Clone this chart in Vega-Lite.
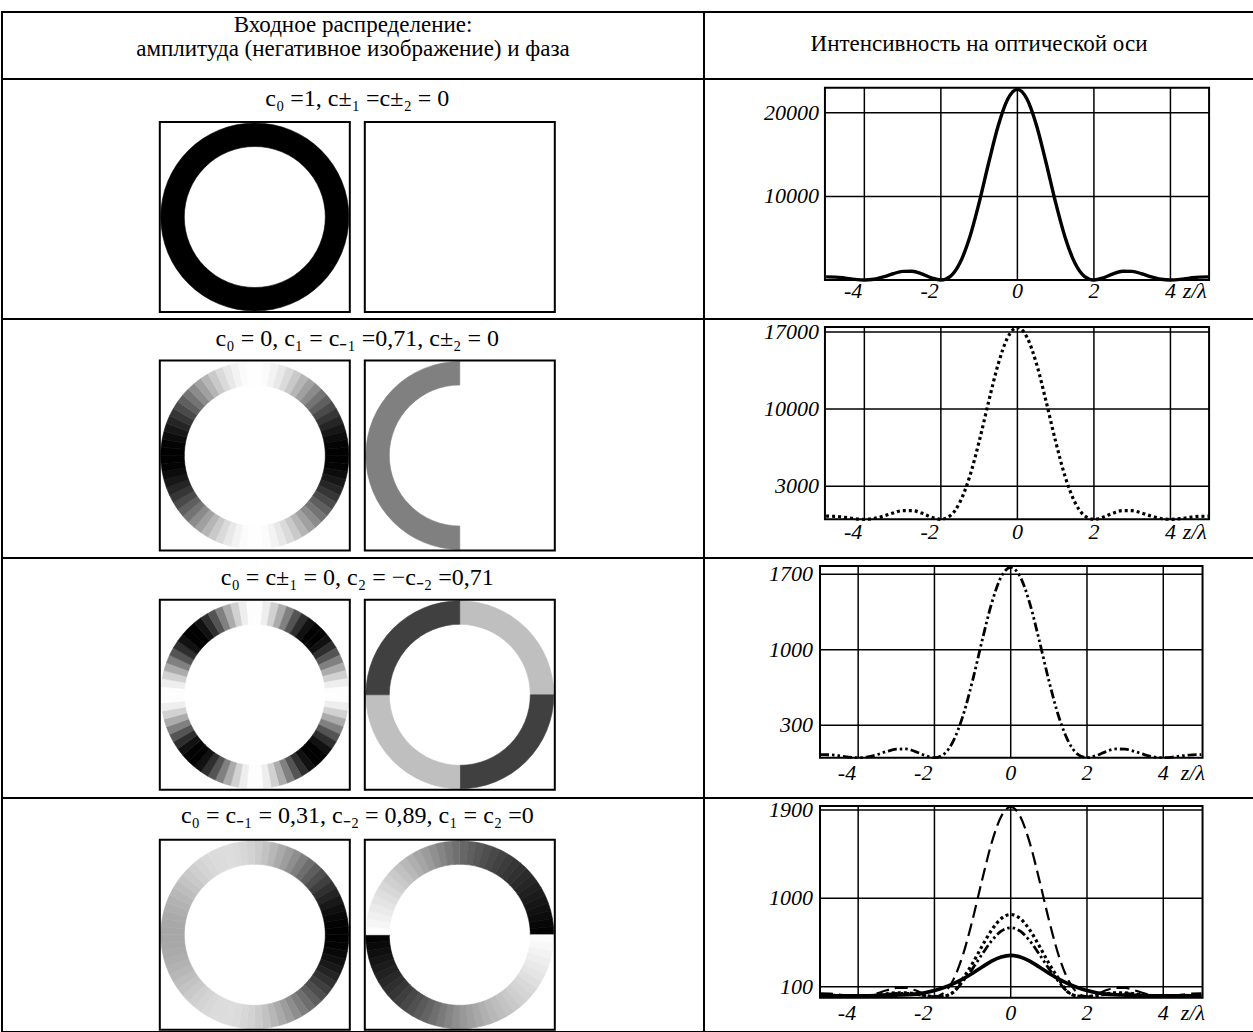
{
"$schema": "https://vega.github.io/schema/vega-lite/v6.json",
"padding": {"left": 1, "top": 11, "right": 0, "bottom": 0},
"background": "white",
"config": {"view": {"stroke": "#000", "strokeWidth": 2}, "axis": {"disable": true}, "legend": {"disable": true}, "font": "Liberation Serif"},
"datasets": {
"one": [{"k": 1}],
"boxes": [{"c": 0}, {"c": 1}],
"headers": [{"h": 1, "t": "Входное распределение:\nамплитуда (негативное изображение) и фаза"}, {"h": 2, "t": "Интенсивность на оптической оси"}],
"titles": [
{"r": 1, "t": "c₀ =1, c±₁ =c±₂ = 0"},
{"r": 2, "t": "c₀ = 0, c₁ = c₋₁ =0,71,  c±₂ = 0"},
{"r": 3, "t": "c₀ = c±₁ = 0, c₂ = −c₋₂ =0,71"},
{"r": 4, "t": "c₀ = c₋₁ = 0,31, c₋₂ = 0,89, c₁ = c₂ =0"}
],
"vgrid": [{"z": -4, "t": "-4"}, {"z": -2, "t": "-2"}, {"z": 0, "t": "0"}, {"z": 2, "t": "2"}, {"z": 4, "t": "4"}],
"hgrid": [{"p": 1, "v": 10000}, {"p": 1, "v": 20000}, {"p": 2, "v": 3000}, {"p": 2, "v": 10000}, {"p": 2, "v": 17000}, {"p": 3, "v": 300}, {"p": 3, "v": 1000}, {"p": 3, "v": 1700}, {"p": 4, "v": 100}, {"p": 4, "v": 1000}, {"p": 4, "v": 1900}],
"rings": [
{"r":1,"c":0,"a":0,"b":360,"v":1},{"r":1,"c":1,"a":0,"b":360,"v":0},
{"r":2,"c":1,"a":0,"b":180,"v":0},{"r":2,"c":1,"a":180,"b":360,"v":0.5},
{"r":3,"c":1,"a":0,"b":90,"v":0.25},{"r":3,"c":1,"a":90,"b":180,"v":0.75},{"r":3,"c":1,"a":180,"b":270,"v":0.25},{"r":3,"c":1,"a":270,"b":360,"v":0.75},
{"r":2,"c":0,"a":0,"b":5,"v":0.002},{"r":2,"c":0,"a":5,"b":10,"v":0.017},{"r":2,"c":0,"a":10,"b":15,"v":0.047},{"r":2,"c":0,"a":15,"b":20,"v":0.09},{"r":2,"c":0,"a":20,"b":25,"v":0.146},{"r":2,"c":0,"a":25,"b":30,"v":0.213},{"r":2,"c":0,"a":30,"b":35,"v":0.289},{"r":2,"c":0,"a":35,"b":40,"v":0.371},{"r":2,"c":0,"a":40,"b":45,"v":0.456},{"r":2,"c":0,"a":45,"b":50,"v":0.544},{"r":2,"c":0,"a":50,"b":55,"v":0.629},{"r":2,"c":0,"a":55,"b":60,"v":0.711},{"r":2,"c":0,"a":60,"b":65,"v":0.787},{"r":2,"c":0,"a":65,"b":70,"v":0.854},{"r":2,"c":0,"a":70,"b":75,"v":0.91},{"r":2,"c":0,"a":75,"b":80,"v":0.953},{"r":2,"c":0,"a":80,"b":85,"v":0.983},{"r":2,"c":0,"a":85,"b":90,"v":0.998},
{"r":2,"c":0,"a":90,"b":95,"v":0.998},{"r":2,"c":0,"a":95,"b":100,"v":0.983},{"r":2,"c":0,"a":100,"b":105,"v":0.953},{"r":2,"c":0,"a":105,"b":110,"v":0.91},{"r":2,"c":0,"a":110,"b":115,"v":0.854},{"r":2,"c":0,"a":115,"b":120,"v":0.787},{"r":2,"c":0,"a":120,"b":125,"v":0.711},{"r":2,"c":0,"a":125,"b":130,"v":0.629},{"r":2,"c":0,"a":130,"b":135,"v":0.544},{"r":2,"c":0,"a":135,"b":140,"v":0.456},{"r":2,"c":0,"a":140,"b":145,"v":0.371},{"r":2,"c":0,"a":145,"b":150,"v":0.289},{"r":2,"c":0,"a":150,"b":155,"v":0.213},{"r":2,"c":0,"a":155,"b":160,"v":0.146},{"r":2,"c":0,"a":160,"b":165,"v":0.09},{"r":2,"c":0,"a":165,"b":170,"v":0.047},{"r":2,"c":0,"a":170,"b":175,"v":0.017},{"r":2,"c":0,"a":175,"b":180,"v":0.002},
{"r":2,"c":0,"a":180,"b":185,"v":0.002},{"r":2,"c":0,"a":185,"b":190,"v":0.017},{"r":2,"c":0,"a":190,"b":195,"v":0.047},{"r":2,"c":0,"a":195,"b":200,"v":0.09},{"r":2,"c":0,"a":200,"b":205,"v":0.146},{"r":2,"c":0,"a":205,"b":210,"v":0.213},{"r":2,"c":0,"a":210,"b":215,"v":0.289},{"r":2,"c":0,"a":215,"b":220,"v":0.371},{"r":2,"c":0,"a":220,"b":225,"v":0.456},{"r":2,"c":0,"a":225,"b":230,"v":0.544},{"r":2,"c":0,"a":230,"b":235,"v":0.629},{"r":2,"c":0,"a":235,"b":240,"v":0.711},{"r":2,"c":0,"a":240,"b":245,"v":0.787},{"r":2,"c":0,"a":245,"b":250,"v":0.854},{"r":2,"c":0,"a":250,"b":255,"v":0.91},{"r":2,"c":0,"a":255,"b":260,"v":0.953},{"r":2,"c":0,"a":260,"b":265,"v":0.983},{"r":2,"c":0,"a":265,"b":270,"v":0.998},
{"r":2,"c":0,"a":270,"b":275,"v":0.998},{"r":2,"c":0,"a":275,"b":280,"v":0.983},{"r":2,"c":0,"a":280,"b":285,"v":0.953},{"r":2,"c":0,"a":285,"b":290,"v":0.91},{"r":2,"c":0,"a":290,"b":295,"v":0.854},{"r":2,"c":0,"a":295,"b":300,"v":0.787},{"r":2,"c":0,"a":300,"b":305,"v":0.711},{"r":2,"c":0,"a":305,"b":310,"v":0.629},{"r":2,"c":0,"a":310,"b":315,"v":0.544},{"r":2,"c":0,"a":315,"b":320,"v":0.456},{"r":2,"c":0,"a":320,"b":325,"v":0.371},{"r":2,"c":0,"a":325,"b":330,"v":0.289},{"r":2,"c":0,"a":330,"b":335,"v":0.213},{"r":2,"c":0,"a":335,"b":340,"v":0.146},{"r":2,"c":0,"a":340,"b":345,"v":0.09},{"r":2,"c":0,"a":345,"b":350,"v":0.047},{"r":2,"c":0,"a":350,"b":355,"v":0.017},{"r":2,"c":0,"a":355,"b":360,"v":0.002},
{"r":3,"c":0,"a":0,"b":5,"v":0.008},{"r":3,"c":0,"a":5,"b":10,"v":0.067},{"r":3,"c":0,"a":10,"b":15,"v":0.179},{"r":3,"c":0,"a":15,"b":20,"v":0.329},{"r":3,"c":0,"a":20,"b":25,"v":0.5},{"r":3,"c":0,"a":25,"b":30,"v":0.671},{"r":3,"c":0,"a":30,"b":35,"v":0.821},{"r":3,"c":0,"a":35,"b":40,"v":0.933},{"r":3,"c":0,"a":40,"b":45,"v":0.992},{"r":3,"c":0,"a":45,"b":50,"v":0.992},{"r":3,"c":0,"a":50,"b":55,"v":0.933},{"r":3,"c":0,"a":55,"b":60,"v":0.821},{"r":3,"c":0,"a":60,"b":65,"v":0.671},{"r":3,"c":0,"a":65,"b":70,"v":0.5},{"r":3,"c":0,"a":70,"b":75,"v":0.329},{"r":3,"c":0,"a":75,"b":80,"v":0.179},{"r":3,"c":0,"a":80,"b":85,"v":0.067},{"r":3,"c":0,"a":85,"b":90,"v":0.008},
{"r":3,"c":0,"a":90,"b":95,"v":0.008},{"r":3,"c":0,"a":95,"b":100,"v":0.067},{"r":3,"c":0,"a":100,"b":105,"v":0.179},{"r":3,"c":0,"a":105,"b":110,"v":0.329},{"r":3,"c":0,"a":110,"b":115,"v":0.5},{"r":3,"c":0,"a":115,"b":120,"v":0.671},{"r":3,"c":0,"a":120,"b":125,"v":0.821},{"r":3,"c":0,"a":125,"b":130,"v":0.933},{"r":3,"c":0,"a":130,"b":135,"v":0.992},{"r":3,"c":0,"a":135,"b":140,"v":0.992},{"r":3,"c":0,"a":140,"b":145,"v":0.933},{"r":3,"c":0,"a":145,"b":150,"v":0.821},{"r":3,"c":0,"a":150,"b":155,"v":0.671},{"r":3,"c":0,"a":155,"b":160,"v":0.5},{"r":3,"c":0,"a":160,"b":165,"v":0.329},{"r":3,"c":0,"a":165,"b":170,"v":0.179},{"r":3,"c":0,"a":170,"b":175,"v":0.067},{"r":3,"c":0,"a":175,"b":180,"v":0.008},
{"r":3,"c":0,"a":180,"b":185,"v":0.008},{"r":3,"c":0,"a":185,"b":190,"v":0.067},{"r":3,"c":0,"a":190,"b":195,"v":0.179},{"r":3,"c":0,"a":195,"b":200,"v":0.329},{"r":3,"c":0,"a":200,"b":205,"v":0.5},{"r":3,"c":0,"a":205,"b":210,"v":0.671},{"r":3,"c":0,"a":210,"b":215,"v":0.821},{"r":3,"c":0,"a":215,"b":220,"v":0.933},{"r":3,"c":0,"a":220,"b":225,"v":0.992},{"r":3,"c":0,"a":225,"b":230,"v":0.992},{"r":3,"c":0,"a":230,"b":235,"v":0.933},{"r":3,"c":0,"a":235,"b":240,"v":0.821},{"r":3,"c":0,"a":240,"b":245,"v":0.671},{"r":3,"c":0,"a":245,"b":250,"v":0.5},{"r":3,"c":0,"a":250,"b":255,"v":0.329},{"r":3,"c":0,"a":255,"b":260,"v":0.179},{"r":3,"c":0,"a":260,"b":265,"v":0.067},{"r":3,"c":0,"a":265,"b":270,"v":0.008},
{"r":3,"c":0,"a":270,"b":275,"v":0.008},{"r":3,"c":0,"a":275,"b":280,"v":0.067},{"r":3,"c":0,"a":280,"b":285,"v":0.179},{"r":3,"c":0,"a":285,"b":290,"v":0.329},{"r":3,"c":0,"a":290,"b":295,"v":0.5},{"r":3,"c":0,"a":295,"b":300,"v":0.671},{"r":3,"c":0,"a":300,"b":305,"v":0.821},{"r":3,"c":0,"a":305,"b":310,"v":0.933},{"r":3,"c":0,"a":310,"b":315,"v":0.992},{"r":3,"c":0,"a":315,"b":320,"v":0.992},{"r":3,"c":0,"a":320,"b":325,"v":0.933},{"r":3,"c":0,"a":325,"b":330,"v":0.821},{"r":3,"c":0,"a":330,"b":335,"v":0.671},{"r":3,"c":0,"a":335,"b":340,"v":0.5},{"r":3,"c":0,"a":340,"b":345,"v":0.329},{"r":3,"c":0,"a":345,"b":350,"v":0.179},{"r":3,"c":0,"a":350,"b":355,"v":0.067},{"r":3,"c":0,"a":355,"b":360,"v":0.008},
{"r":4,"c":0,"a":0,"b":5,"v":0.205},{"r":4,"c":0,"a":5,"b":10,"v":0.241},{"r":4,"c":0,"a":10,"b":15,"v":0.283},{"r":4,"c":0,"a":15,"b":20,"v":0.332},{"r":4,"c":0,"a":20,"b":25,"v":0.385},{"r":4,"c":0,"a":25,"b":30,"v":0.444},{"r":4,"c":0,"a":30,"b":35,"v":0.505},{"r":4,"c":0,"a":35,"b":40,"v":0.568},{"r":4,"c":0,"a":40,"b":45,"v":0.631},{"r":4,"c":0,"a":45,"b":50,"v":0.693},{"r":4,"c":0,"a":50,"b":55,"v":0.753},{"r":4,"c":0,"a":55,"b":60,"v":0.809},{"r":4,"c":0,"a":60,"b":65,"v":0.86},{"r":4,"c":0,"a":65,"b":70,"v":0.904},{"r":4,"c":0,"a":70,"b":75,"v":0.941},{"r":4,"c":0,"a":75,"b":80,"v":0.97},{"r":4,"c":0,"a":80,"b":85,"v":0.989},{"r":4,"c":0,"a":85,"b":90,"v":0.999},
{"r":4,"c":0,"a":90,"b":95,"v":0.999},{"r":4,"c":0,"a":95,"b":100,"v":0.989},{"r":4,"c":0,"a":100,"b":105,"v":0.97},{"r":4,"c":0,"a":105,"b":110,"v":0.941},{"r":4,"c":0,"a":110,"b":115,"v":0.904},{"r":4,"c":0,"a":115,"b":120,"v":0.86},{"r":4,"c":0,"a":120,"b":125,"v":0.809},{"r":4,"c":0,"a":125,"b":130,"v":0.753},{"r":4,"c":0,"a":130,"b":135,"v":0.693},{"r":4,"c":0,"a":135,"b":140,"v":0.631},{"r":4,"c":0,"a":140,"b":145,"v":0.568},{"r":4,"c":0,"a":145,"b":150,"v":0.505},{"r":4,"c":0,"a":150,"b":155,"v":0.444},{"r":4,"c":0,"a":155,"b":160,"v":0.385},{"r":4,"c":0,"a":160,"b":165,"v":0.332},{"r":4,"c":0,"a":165,"b":170,"v":0.283},{"r":4,"c":0,"a":170,"b":175,"v":0.241},{"r":4,"c":0,"a":175,"b":180,"v":0.205},
{"r":4,"c":0,"a":180,"b":185,"v":0.176},{"r":4,"c":0,"a":185,"b":190,"v":0.155},{"r":4,"c":0,"a":190,"b":195,"v":0.142},{"r":4,"c":0,"a":195,"b":200,"v":0.135},{"r":4,"c":0,"a":200,"b":205,"v":0.136},{"r":4,"c":0,"a":205,"b":210,"v":0.142},{"r":4,"c":0,"a":210,"b":215,"v":0.154},{"r":4,"c":0,"a":215,"b":220,"v":0.17},{"r":4,"c":0,"a":220,"b":225,"v":0.19},{"r":4,"c":0,"a":225,"b":230,"v":0.212},{"r":4,"c":0,"a":230,"b":235,"v":0.236},{"r":4,"c":0,"a":235,"b":240,"v":0.259},{"r":4,"c":0,"a":240,"b":245,"v":0.281},{"r":4,"c":0,"a":245,"b":250,"v":0.301},{"r":4,"c":0,"a":250,"b":255,"v":0.319},{"r":4,"c":0,"a":255,"b":260,"v":0.333},{"r":4,"c":0,"a":260,"b":265,"v":0.342},{"r":4,"c":0,"a":265,"b":270,"v":0.347},
{"r":4,"c":0,"a":270,"b":275,"v":0.347},{"r":4,"c":0,"a":275,"b":280,"v":0.342},{"r":4,"c":0,"a":280,"b":285,"v":0.333},{"r":4,"c":0,"a":285,"b":290,"v":0.319},{"r":4,"c":0,"a":290,"b":295,"v":0.301},{"r":4,"c":0,"a":295,"b":300,"v":0.281},{"r":4,"c":0,"a":300,"b":305,"v":0.259},{"r":4,"c":0,"a":305,"b":310,"v":0.236},{"r":4,"c":0,"a":310,"b":315,"v":0.212},{"r":4,"c":0,"a":315,"b":320,"v":0.19},{"r":4,"c":0,"a":320,"b":325,"v":0.17},{"r":4,"c":0,"a":325,"b":330,"v":0.154},{"r":4,"c":0,"a":330,"b":335,"v":0.142},{"r":4,"c":0,"a":335,"b":340,"v":0.136},{"r":4,"c":0,"a":340,"b":345,"v":0.135},{"r":4,"c":0,"a":345,"b":350,"v":0.142},{"r":4,"c":0,"a":350,"b":355,"v":0.155},{"r":4,"c":0,"a":355,"b":360,"v":0.176},
{"r":4,"c":1,"a":0,"b":5,"v":0.596},{"r":4,"c":1,"a":5,"b":10,"v":0.629},{"r":4,"c":1,"a":10,"b":15,"v":0.66},{"r":4,"c":1,"a":15,"b":20,"v":0.689},{"r":4,"c":1,"a":20,"b":25,"v":0.716},{"r":4,"c":1,"a":25,"b":30,"v":0.741},{"r":4,"c":1,"a":30,"b":35,"v":0.765},{"r":4,"c":1,"a":35,"b":40,"v":0.788},{"r":4,"c":1,"a":40,"b":45,"v":0.81},{"r":4,"c":1,"a":45,"b":50,"v":0.832},{"r":4,"c":1,"a":50,"b":55,"v":0.852},{"r":4,"c":1,"a":55,"b":60,"v":0.873},{"r":4,"c":1,"a":60,"b":65,"v":0.893},{"r":4,"c":1,"a":65,"b":70,"v":0.913},{"r":4,"c":1,"a":70,"b":75,"v":0.932},{"r":4,"c":1,"a":75,"b":80,"v":0.952},{"r":4,"c":1,"a":80,"b":85,"v":0.971},{"r":4,"c":1,"a":85,"b":90,"v":0.99},
{"r":4,"c":1,"a":90,"b":95,"v":0.01},{"r":4,"c":1,"a":95,"b":100,"v":0.029},{"r":4,"c":1,"a":100,"b":105,"v":0.048},{"r":4,"c":1,"a":105,"b":110,"v":0.068},{"r":4,"c":1,"a":110,"b":115,"v":0.087},{"r":4,"c":1,"a":115,"b":120,"v":0.107},{"r":4,"c":1,"a":120,"b":125,"v":0.127},{"r":4,"c":1,"a":125,"b":130,"v":0.148},{"r":4,"c":1,"a":130,"b":135,"v":0.169},{"r":4,"c":1,"a":135,"b":140,"v":0.19},{"r":4,"c":1,"a":140,"b":145,"v":0.212},{"r":4,"c":1,"a":145,"b":150,"v":0.235},{"r":4,"c":1,"a":150,"b":155,"v":0.259},{"r":4,"c":1,"a":155,"b":160,"v":0.284},{"r":4,"c":1,"a":160,"b":165,"v":0.311},{"r":4,"c":1,"a":165,"b":170,"v":0.34},{"r":4,"c":1,"a":170,"b":175,"v":0.371},{"r":4,"c":1,"a":175,"b":180,"v":0.404},
{"r":4,"c":1,"a":180,"b":185,"v":0.44},{"r":4,"c":1,"a":185,"b":190,"v":0.479},{"r":4,"c":1,"a":190,"b":195,"v":0.521},{"r":4,"c":1,"a":195,"b":200,"v":0.563},{"r":4,"c":1,"a":200,"b":205,"v":0.606},{"r":4,"c":1,"a":205,"b":210,"v":0.647},{"r":4,"c":1,"a":210,"b":215,"v":0.686},{"r":4,"c":1,"a":215,"b":220,"v":0.722},{"r":4,"c":1,"a":220,"b":225,"v":0.756},{"r":4,"c":1,"a":225,"b":230,"v":0.787},{"r":4,"c":1,"a":230,"b":235,"v":0.816},{"r":4,"c":1,"a":235,"b":240,"v":0.843},{"r":4,"c":1,"a":240,"b":245,"v":0.869},{"r":4,"c":1,"a":245,"b":250,"v":0.894},{"r":4,"c":1,"a":250,"b":255,"v":0.919},{"r":4,"c":1,"a":255,"b":260,"v":0.942},{"r":4,"c":1,"a":260,"b":265,"v":0.966},{"r":4,"c":1,"a":265,"b":270,"v":0.989},
{"r":4,"c":1,"a":270,"b":275,"v":0.012},{"r":4,"c":1,"a":275,"b":280,"v":0.035},{"r":4,"c":1,"a":280,"b":285,"v":0.058},{"r":4,"c":1,"a":285,"b":290,"v":0.081},{"r":4,"c":1,"a":290,"b":295,"v":0.106},{"r":4,"c":1,"a":295,"b":300,"v":0.131},{"r":4,"c":1,"a":300,"b":305,"v":0.157},{"r":4,"c":1,"a":305,"b":310,"v":0.184},{"r":4,"c":1,"a":310,"b":315,"v":0.213},{"r":4,"c":1,"a":315,"b":320,"v":0.244},{"r":4,"c":1,"a":320,"b":325,"v":0.278},{"r":4,"c":1,"a":325,"b":330,"v":0.314},{"r":4,"c":1,"a":330,"b":335,"v":0.353},{"r":4,"c":1,"a":335,"b":340,"v":0.394},{"r":4,"c":1,"a":340,"b":345,"v":0.437},{"r":4,"c":1,"a":345,"b":350,"v":0.479},{"r":4,"c":1,"a":350,"b":355,"v":0.521},{"r":4,"c":1,"a":355,"b":360,"v":0.56}
],
"curves": [
{"s":"r1","z":-5,"v":369},{"s":"r1","z":-4.75,"v":349},{"s":"r1","z":-4.5,"v":228},{"s":"r1","z":-4.25,"v":75},{"s":"r1","z":-4,"v":0},{"s":"r1","z":-3.75,"v":96},{"s":"r1","z":-3.5,"v":376},{"s":"r1","z":-3.25,"v":748},{"s":"r1","z":-3,"v":1026},{"s":"r1","z":-2.75,"v":1042},{"s":"r1","z":-2.5,"v":739},{"s":"r1","z":-2.25,"v":267},{"s":"r1","z":-2,"v":0},{"s":"r1","z":-1.75,"v":442},{"s":"r1","z":-1.5,"v":2054},{"s":"r1","z":-1.25,"v":5048},{"s":"r1","z":-1,"v":9241},{"s":"r1","z":-0.75,"v":14022},{"s":"r1","z":-0.5,"v":18482},{"s":"r1","z":-0.25,"v":21653},{"s":"r1","z":0,"v":22800},{"s":"r1","z":0.25,"v":21653},{"s":"r1","z":0.5,"v":18482},{"s":"r1","z":0.75,"v":14022},{"s":"r1","z":1,"v":9241},{"s":"r1","z":1.25,"v":5048},{"s":"r1","z":1.5,"v":2054},{"s":"r1","z":1.75,"v":442},{"s":"r1","z":2,"v":0},{"s":"r1","z":2.25,"v":267},{"s":"r1","z":2.5,"v":739},{"s":"r1","z":2.75,"v":1042},{"s":"r1","z":3,"v":1026},{"s":"r1","z":3.25,"v":748},{"s":"r1","z":3.5,"v":376},{"s":"r1","z":3.75,"v":96},{"s":"r1","z":4,"v":0},{"s":"r1","z":4.25,"v":75},{"s":"r1","z":4.5,"v":228},{"s":"r1","z":4.75,"v":349},{"s":"r1","z":5,"v":369},
{"s":"r2","z":-5,"v":282},{"s":"r2","z":-4.75,"v":266},{"s":"r2","z":-4.5,"v":174},{"s":"r2","z":-4.25,"v":57},{"s":"r2","z":-4,"v":0},{"s":"r2","z":-3.75,"v":73},{"s":"r2","z":-3.5,"v":287},{"s":"r2","z":-3.25,"v":571},{"s":"r2","z":-3,"v":783},{"s":"r2","z":-2.75,"v":795},{"s":"r2","z":-2.5,"v":564},{"s":"r2","z":-2.25,"v":204},{"s":"r2","z":-2,"v":0},{"s":"r2","z":-1.75,"v":338},{"s":"r2","z":-1.5,"v":1568},{"s":"r2","z":-1.25,"v":3852},{"s":"r2","z":-1,"v":7052},{"s":"r2","z":-0.75,"v":10701},{"s":"r2","z":-0.5,"v":14104},{"s":"r2","z":-0.25,"v":16525},{"s":"r2","z":0,"v":17400},{"s":"r2","z":0.25,"v":16525},{"s":"r2","z":0.5,"v":14104},{"s":"r2","z":0.75,"v":10701},{"s":"r2","z":1,"v":7052},{"s":"r2","z":1.25,"v":3852},{"s":"r2","z":1.5,"v":1568},{"s":"r2","z":1.75,"v":338},{"s":"r2","z":2,"v":0},{"s":"r2","z":2.25,"v":204},{"s":"r2","z":2.5,"v":564},{"s":"r2","z":2.75,"v":795},{"s":"r2","z":3,"v":783},{"s":"r2","z":3.25,"v":571},{"s":"r2","z":3.5,"v":287},{"s":"r2","z":3.75,"v":73},{"s":"r2","z":4,"v":0},{"s":"r2","z":4.25,"v":57},{"s":"r2","z":4.5,"v":174},{"s":"r2","z":4.75,"v":266},{"s":"r2","z":5,"v":282},
{"s":"r3","z":-5,"v":29},{"s":"r3","z":-4.75,"v":27},{"s":"r3","z":-4.5,"v":18},{"s":"r3","z":-4.25,"v":6},{"s":"r3","z":-4,"v":0},{"s":"r3","z":-3.75,"v":7},{"s":"r3","z":-3.5,"v":29},{"s":"r3","z":-3.25,"v":58},{"s":"r3","z":-3,"v":79},{"s":"r3","z":-2.75,"v":81},{"s":"r3","z":-2.5,"v":57},{"s":"r3","z":-2.25,"v":21},{"s":"r3","z":-2,"v":0},{"s":"r3","z":-1.75,"v":34},{"s":"r3","z":-1.5,"v":159},{"s":"r3","z":-1.25,"v":391},{"s":"r3","z":-1,"v":715},{"s":"r3","z":-0.75,"v":1085},{"s":"r3","z":-0.5,"v":1431},{"s":"r3","z":-0.25,"v":1676},{"s":"r3","z":0,"v":1765},{"s":"r3","z":0.25,"v":1676},{"s":"r3","z":0.5,"v":1431},{"s":"r3","z":0.75,"v":1085},{"s":"r3","z":1,"v":715},{"s":"r3","z":1.25,"v":391},{"s":"r3","z":1.5,"v":159},{"s":"r3","z":1.75,"v":34},{"s":"r3","z":2,"v":0},{"s":"r3","z":2.25,"v":21},{"s":"r3","z":2.5,"v":57},{"s":"r3","z":2.75,"v":81},{"s":"r3","z":3,"v":79},{"s":"r3","z":3.25,"v":58},{"s":"r3","z":3.5,"v":29},{"s":"r3","z":3.75,"v":7},{"s":"r3","z":4,"v":0},{"s":"r3","z":4.25,"v":6},{"s":"r3","z":4.5,"v":18},{"s":"r3","z":4.75,"v":27},{"s":"r3","z":5,"v":29},
{"s":"d","z":-5,"v":31},{"s":"d","z":-4.75,"v":30},{"s":"d","z":-4.5,"v":19},{"s":"d","z":-4.25,"v":6},{"s":"d","z":-4,"v":0},{"s":"d","z":-3.75,"v":8},{"s":"d","z":-3.5,"v":32},{"s":"d","z":-3.25,"v":63},{"s":"d","z":-3,"v":87},{"s":"d","z":-2.75,"v":88},{"s":"d","z":-2.5,"v":63},{"s":"d","z":-2.25,"v":23},{"s":"d","z":-2,"v":0},{"s":"d","z":-1.75,"v":37},{"s":"d","z":-1.5,"v":174},{"s":"d","z":-1.25,"v":427},{"s":"d","z":-1,"v":782},{"s":"d","z":-0.75,"v":1187},{"s":"d","z":-0.5,"v":1564},{"s":"d","z":-0.25,"v":1833},{"s":"d","z":0,"v":1930},{"s":"d","z":0.25,"v":1833},{"s":"d","z":0.5,"v":1564},{"s":"d","z":0.75,"v":1187},{"s":"d","z":1,"v":782},{"s":"d","z":1.25,"v":427},{"s":"d","z":1.5,"v":174},{"s":"d","z":1.75,"v":37},{"s":"d","z":2,"v":0},{"s":"d","z":2.25,"v":23},{"s":"d","z":2.5,"v":63},{"s":"d","z":2.75,"v":88},{"s":"d","z":3,"v":87},{"s":"d","z":3.25,"v":63},{"s":"d","z":3.5,"v":32},{"s":"d","z":3.75,"v":8},{"s":"d","z":4,"v":0},{"s":"d","z":4.25,"v":6},{"s":"d","z":4.5,"v":19},{"s":"d","z":4.75,"v":30},{"s":"d","z":5,"v":31},
{"s":"o","z":-5,"v":14},{"s":"o","z":-4.75,"v":13},{"s":"o","z":-4.5,"v":8},{"s":"o","z":-4.25,"v":3},{"s":"o","z":-4,"v":0},{"s":"o","z":-3.75,"v":4},{"s":"o","z":-3.5,"v":14},{"s":"o","z":-3.25,"v":27},{"s":"o","z":-3,"v":37},{"s":"o","z":-2.75,"v":38},{"s":"o","z":-2.5,"v":27},{"s":"o","z":-2.25,"v":10},{"s":"o","z":-2,"v":0},{"s":"o","z":-1.75,"v":5},{"s":"o","z":-1.5,"v":45},{"s":"o","z":-1.25,"v":185},{"s":"o","z":-1,"v":338},{"s":"o","z":-0.75,"v":514},{"s":"o","z":-0.5,"v":677},{"s":"o","z":-0.25,"v":793},{"s":"o","z":0,"v":835},{"s":"o","z":0.25,"v":793},{"s":"o","z":0.5,"v":677},{"s":"o","z":0.75,"v":514},{"s":"o","z":1,"v":338},{"s":"o","z":1.25,"v":185},{"s":"o","z":1.5,"v":45},{"s":"o","z":1.75,"v":5},{"s":"o","z":2,"v":0},{"s":"o","z":2.25,"v":10},{"s":"o","z":2.5,"v":27},{"s":"o","z":2.75,"v":38},{"s":"o","z":3,"v":37},{"s":"o","z":3.25,"v":27},{"s":"o","z":3.5,"v":14},{"s":"o","z":3.75,"v":4},{"s":"o","z":4,"v":0},{"s":"o","z":4.25,"v":3},{"s":"o","z":4.5,"v":8},{"s":"o","z":4.75,"v":13},{"s":"o","z":5,"v":14},
{"s":"dd","z":-5,"v":11},{"s":"dd","z":-4.75,"v":11},{"s":"dd","z":-4.5,"v":7},{"s":"dd","z":-4.25,"v":2},{"s":"dd","z":-4,"v":0},{"s":"dd","z":-3.75,"v":3},{"s":"dd","z":-3.5,"v":12},{"s":"dd","z":-3.25,"v":23},{"s":"dd","z":-3,"v":31},{"s":"dd","z":-2.75,"v":32},{"s":"dd","z":-2.5,"v":23},{"s":"dd","z":-2.25,"v":8},{"s":"dd","z":-2,"v":0},{"s":"dd","z":-1.75,"v":5},{"s":"dd","z":-1.5,"v":45},{"s":"dd","z":-1.25,"v":155},{"s":"dd","z":-1,"v":284},{"s":"dd","z":-0.75,"v":430},{"s":"dd","z":-0.5,"v":567},{"s":"dd","z":-0.25,"v":665},{"s":"dd","z":0,"v":700},{"s":"dd","z":0.25,"v":665},{"s":"dd","z":0.5,"v":567},{"s":"dd","z":0.75,"v":430},{"s":"dd","z":1,"v":284},{"s":"dd","z":1.25,"v":155},{"s":"dd","z":1.5,"v":45},{"s":"dd","z":1.75,"v":5},{"s":"dd","z":2,"v":0},{"s":"dd","z":2.25,"v":8},{"s":"dd","z":2.5,"v":23},{"s":"dd","z":2.75,"v":32},{"s":"dd","z":3,"v":31},{"s":"dd","z":3.25,"v":23},{"s":"dd","z":3.5,"v":12},{"s":"dd","z":3.75,"v":3},{"s":"dd","z":4,"v":0},{"s":"dd","z":4.25,"v":2},{"s":"dd","z":4.5,"v":7},{"s":"dd","z":4.75,"v":11},{"s":"dd","z":5,"v":11},
{"s":"sl","z":-5,"v":6},{"s":"sl","z":-4.75,"v":6},{"s":"sl","z":-4.5,"v":6},{"s":"sl","z":-4.25,"v":6},{"s":"sl","z":-4,"v":7},{"s":"sl","z":-3.75,"v":8},{"s":"sl","z":-3.5,"v":10},{"s":"sl","z":-3.25,"v":12},{"s":"sl","z":-3,"v":14},{"s":"sl","z":-2.75,"v":17},{"s":"sl","z":-2.5,"v":24},{"s":"sl","z":-2.25,"v":38},{"s":"sl","z":-2,"v":60},{"s":"sl","z":-1.75,"v":92},{"s":"sl","z":-1.5,"v":132},{"s":"sl","z":-1.25,"v":180},{"s":"sl","z":-1,"v":237},{"s":"sl","z":-0.75,"v":300},{"s":"sl","z":-0.5,"v":360},{"s":"sl","z":-0.25,"v":402},{"s":"sl","z":0,"v":419},{"s":"sl","z":0.25,"v":402},{"s":"sl","z":0.5,"v":360},{"s":"sl","z":0.75,"v":300},{"s":"sl","z":1,"v":237},{"s":"sl","z":1.25,"v":180},{"s":"sl","z":1.5,"v":132},{"s":"sl","z":1.75,"v":92},{"s":"sl","z":2,"v":60},{"s":"sl","z":2.25,"v":38},{"s":"sl","z":2.5,"v":24},{"s":"sl","z":2.75,"v":17},{"s":"sl","z":3,"v":14},{"s":"sl","z":3.25,"v":12},{"s":"sl","z":3.5,"v":10},{"s":"sl","z":3.75,"v":8},{"s":"sl","z":4,"v":7},{"s":"sl","z":4.25,"v":6},{"s":"sl","z":4.5,"v":6},{"s":"sl","z":4.75,"v":6},{"s":"sl","z":5,"v":6}
]
},
"columns": 2,
"spacing": 0,
"bounds": "flush",
"concat": [
 {"width": 702, "height": 67, "data": {"name": "headers"}, "transform": [{"filter": "datum.h == 1"}],
  "mark": {"type": "text", "fontSize": 23, "lineBreak": "\n", "lineHeight": 24, "baseline": "middle", "align": "center", "dy": -21},
  "encoding": {"x": {"datum": 0, "type": "quantitative", "scale": {"domain": [-1, 1]}}, "y": {"datum": 0, "type": "quantitative", "scale": {"domain": [-1, 1]}}, "text": {"field": "t"}}},
 {"width": 550, "height": 67, "data": {"name": "headers"}, "transform": [{"filter": "datum.h == 2"}],
  "mark": {"type": "text", "fontSize": 23, "baseline": "middle", "align": "center", "dy": -2},
  "encoding": {"x": {"datum": 0, "type": "quantitative", "scale": {"domain": [-1, 1]}}, "y": {"datum": 0, "type": "quantitative", "scale": {"domain": [-1, 1]}}, "text": {"field": "t"}}},

 {"width": 702, "height": 240, "layer": [
  {"data": {"name": "titles"}, "transform": [{"filter": "datum.r == 1"}], "mark": {"type": "text", "fontSize": 24, "baseline": "middle", "align": "center"},
   "encoding": {"x": {"datum": 0.5, "type": "quantitative", "scale": {"domain": [-1.2332, 2.1912], "nice": false, "zero": false}}, "y": {"datum": 1, "type": "quantitative", "scale": {"domain": [-0.8644, 1.1695], "nice": false, "zero": false}}, "text": {"field": "t"}}},
  {"data": {"name": "rings"}, "transform": [{"filter": "datum.r == 1"}], "mark": {"type": "arc", "outerRadius": 94, "innerRadius": 70.5, "strokeWidth": 0.6},
   "encoding": {"x": {"field": "c", "type": "quantitative", "stack": null}, "y": {"datum": 0, "type": "quantitative"}, "theta": {"field": "a", "type": "quantitative", "stack": null, "scale": {"domain": [0, 360]}}, "theta2": {"field": "b"}, "color": {"field": "v", "type": "quantitative", "scale": {"domain": [0, 1], "range": ["#ffffff", "#000000"], "interpolate": "rgb"}}, "stroke": {"field": "v", "type": "quantitative", "scale": {"domain": [0, 1], "range": ["#ffffff", "#000000"], "interpolate": "rgb"}}}},
  {"data": {"name": "boxes"}, "mark": {"type": "point", "shape": "square", "size": 36100, "filled": false, "stroke": "#000", "strokeWidth": 2, "opacity": 1},
   "encoding": {"x": {"field": "c", "type": "quantitative"}, "y": {"datum": 0, "type": "quantitative"}}}
 ]},
 {"width": 550, "height": 240, "layer": [
  {"data": {"name": "vgrid"}, "mark": {"type": "rule", "color": "#000", "strokeWidth": 1.5},
   "encoding": {"x": {"field": "z", "type": "quantitative", "scale": {"domain": [-8.191, 6.184], "nice": false, "zero": false}}, "y": {"datum": 0, "type": "quantitative", "scale": {"domain": [-4664, 24040], "nice": false, "zero": false}}, "y2": {"datum": 23000}}},
  {"data": {"name": "hgrid"}, "transform": [{"filter": "datum.p == 1"}], "mark": {"type": "rule", "color": "#000", "strokeWidth": 1.5},
   "encoding": {"y": {"field": "v", "type": "quantitative"}, "x": {"datum": -5.03, "type": "quantitative"}, "x2": {"datum": 5.01}}},
  {"data": {"name": "one"}, "mark": {"type": "rect", "filled": false, "color": "#000", "stroke": "#000", "strokeWidth": 2},
   "encoding": {"x": {"datum": -5.03, "type": "quantitative"}, "x2": {"datum": 5.01}, "y": {"datum": 0, "type": "quantitative"}, "y2": {"datum": 23000}}},
  {"data": {"name": "curves"}, "transform": [{"filter": "datum.s == 'r1'"}], "mark": {"type": "line", "color": "#000", "strokeWidth": 3.4, "interpolate": "monotone"},
   "encoding": {"x": {"field": "z", "type": "quantitative"}, "y": {"field": "v", "type": "quantitative"}}},
  {"data": {"name": "hgrid"}, "transform": [{"filter": "datum.p == 1"}], "mark": {"type": "text", "align": "right", "baseline": "middle", "dx": -6, "fontStyle": "italic", "fontSize": 22},
   "encoding": {"y": {"field": "v", "type": "quantitative"}, "x": {"datum": -5.03, "type": "quantitative"}, "text": {"field": "v", "type": "quantitative", "format": "d"}}},
  {"data": {"name": "vgrid"}, "transform": [{"filter": "datum.z >= 0"}], "mark": {"type": "text", "align": "center", "baseline": "middle", "dy": 11, "fontStyle": "italic", "fontSize": 22},
   "encoding": {"x": {"field": "z", "type": "quantitative"}, "y": {"datum": 0, "type": "quantitative"}, "text": {"field": "t"}}},
  {"data": {"name": "vgrid"}, "transform": [{"filter": "datum.z < 0"}], "mark": {"type": "text", "align": "right", "baseline": "middle", "dx": -2, "dy": 11, "fontStyle": "italic", "fontSize": 22},
   "encoding": {"x": {"field": "z", "type": "quantitative"}, "y": {"datum": 0, "type": "quantitative"}, "text": {"field": "t"}}},
  {"data": {"name": "one"}, "mark": {"type": "text", "align": "left", "baseline": "middle", "dy": 11, "fontStyle": "italic", "fontSize": 22},
   "encoding": {"x": {"datum": 4.32, "type": "quantitative"}, "y": {"datum": 0, "type": "quantitative"}, "text": {"value": "z/λ"}}}
 ]},

 {"width": 702, "height": 239, "layer": [
  {"data": {"name": "titles"}, "transform": [{"filter": "datum.r == 2"}], "mark": {"type": "text", "fontSize": 24, "baseline": "middle", "align": "center"},
   "encoding": {"x": {"datum": 0.5, "type": "quantitative", "scale": {"domain": [-1.2332, 2.1912], "nice": false, "zero": false}}, "y": {"datum": 1, "type": "quantitative", "scale": {"domain": [-0.8798, 1.1717], "nice": false, "zero": false}}, "text": {"field": "t"}}},
  {"data": {"name": "rings"}, "transform": [{"filter": "datum.r == 2"}], "mark": {"type": "arc", "outerRadius": 94, "innerRadius": 70.5, "strokeWidth": 0.6},
   "encoding": {"x": {"field": "c", "type": "quantitative", "stack": null}, "y": {"datum": 0, "type": "quantitative"}, "theta": {"field": "a", "type": "quantitative", "stack": null, "scale": {"domain": [0, 360]}}, "theta2": {"field": "b"}, "color": {"field": "v", "type": "quantitative", "scale": {"domain": [0, 1], "range": ["#ffffff", "#000000"], "interpolate": "rgb"}}, "stroke": {"field": "v", "type": "quantitative", "scale": {"domain": [0, 1], "range": ["#ffffff", "#000000"], "interpolate": "rgb"}}}},
  {"data": {"name": "boxes"}, "mark": {"type": "point", "shape": "square", "size": 36100, "filled": false, "stroke": "#000", "strokeWidth": 2, "opacity": 1},
   "encoding": {"x": {"field": "c", "type": "quantitative"}, "y": {"datum": 0, "type": "quantitative"}}}
 ]},
 {"width": 550, "height": 239, "layer": [
  {"data": {"name": "vgrid"}, "mark": {"type": "rule", "color": "#000", "strokeWidth": 1.5},
   "encoding": {"x": {"field": "z", "type": "quantitative", "scale": {"domain": [-8.191, 6.184], "nice": false, "zero": false}}, "y": {"datum": 0, "type": "quantitative", "scale": {"domain": [-3512, 18176], "nice": false, "zero": false}}, "y2": {"datum": 17450}}},
  {"data": {"name": "hgrid"}, "transform": [{"filter": "datum.p == 2"}], "mark": {"type": "rule", "color": "#000", "strokeWidth": 1.5},
   "encoding": {"y": {"field": "v", "type": "quantitative"}, "x": {"datum": -5.03, "type": "quantitative"}, "x2": {"datum": 5.01}}},
  {"data": {"name": "one"}, "mark": {"type": "rect", "filled": false, "color": "#000", "stroke": "#000", "strokeWidth": 2},
   "encoding": {"x": {"datum": -5.03, "type": "quantitative"}, "x2": {"datum": 5.01}, "y": {"datum": 0, "type": "quantitative"}, "y2": {"datum": 17450}}},
  {"data": {"name": "curves"}, "transform": [{"filter": "datum.s == 'r2'"}], "mark": {"type": "line", "color": "#000", "strokeWidth": 3.2, "strokeDash": [3, 3], "interpolate": "monotone"},
   "encoding": {"x": {"field": "z", "type": "quantitative"}, "y": {"field": "v", "type": "quantitative"}}},
  {"data": {"name": "hgrid"}, "transform": [{"filter": "datum.p == 2"}], "mark": {"type": "text", "align": "right", "baseline": "middle", "dx": -6, "fontStyle": "italic", "fontSize": 22},
   "encoding": {"y": {"field": "v", "type": "quantitative"}, "x": {"datum": -5.03, "type": "quantitative"}, "text": {"field": "v", "type": "quantitative", "format": "d"}}},
  {"data": {"name": "vgrid"}, "transform": [{"filter": "datum.z >= 0"}], "mark": {"type": "text", "align": "center", "baseline": "middle", "dy": 13, "fontStyle": "italic", "fontSize": 22},
   "encoding": {"x": {"field": "z", "type": "quantitative"}, "y": {"datum": 0, "type": "quantitative"}, "text": {"field": "t"}}},
  {"data": {"name": "vgrid"}, "transform": [{"filter": "datum.z < 0"}], "mark": {"type": "text", "align": "right", "baseline": "middle", "dx": -2, "dy": 13, "fontStyle": "italic", "fontSize": 22},
   "encoding": {"x": {"field": "z", "type": "quantitative"}, "y": {"datum": 0, "type": "quantitative"}, "text": {"field": "t"}}},
  {"data": {"name": "one"}, "mark": {"type": "text", "align": "left", "baseline": "middle", "dy": 13, "fontStyle": "italic", "fontSize": 22},
   "encoding": {"x": {"datum": 4.32, "type": "quantitative"}, "y": {"datum": 0, "type": "quantitative"}, "text": {"value": "z/λ"}}}
 ]},

 {"width": 702, "height": 240, "layer": [
  {"data": {"name": "titles"}, "transform": [{"filter": "datum.r == 3"}], "mark": {"type": "text", "fontSize": 24, "baseline": "middle", "align": "center"},
   "encoding": {"x": {"datum": 0.5, "type": "quantitative", "scale": {"domain": [-1.2332, 2.1912], "nice": false, "zero": false}}, "y": {"datum": 1, "type": "quantitative", "scale": {"domain": [-0.8813, 1.1682], "nice": false, "zero": false}}, "text": {"field": "t"}}},
  {"data": {"name": "rings"}, "transform": [{"filter": "datum.r == 3"}], "mark": {"type": "arc", "outerRadius": 94, "innerRadius": 70.5, "strokeWidth": 0.6},
   "encoding": {"x": {"field": "c", "type": "quantitative", "stack": null}, "y": {"datum": 0, "type": "quantitative"}, "theta": {"field": "a", "type": "quantitative", "stack": null, "scale": {"domain": [0, 360]}}, "theta2": {"field": "b"}, "color": {"field": "v", "type": "quantitative", "scale": {"domain": [0, 1], "range": ["#ffffff", "#000000"], "interpolate": "rgb"}}, "stroke": {"field": "v", "type": "quantitative", "scale": {"domain": [0, 1], "range": ["#ffffff", "#000000"], "interpolate": "rgb"}}}},
  {"data": {"name": "boxes"}, "mark": {"type": "point", "shape": "square", "size": 36100, "filled": false, "stroke": "#000", "strokeWidth": 2, "opacity": 1},
   "encoding": {"x": {"field": "c", "type": "quantitative"}, "y": {"datum": 0, "type": "quantitative"}}}
 ]},
 {"width": 550, "height": 240, "layer": [
  {"data": {"name": "vgrid"}, "mark": {"type": "rule", "color": "#000", "strokeWidth": 1.5},
   "encoding": {"x": {"field": "z", "type": "quantitative", "scale": {"domain": [-8.042, 6.379], "nice": false, "zero": false}}, "y": {"datum": 0, "type": "quantitative", "scale": {"domain": [-373.5, 1851], "nice": false, "zero": false}}, "y2": {"datum": 1777}}},
  {"data": {"name": "hgrid"}, "transform": [{"filter": "datum.p == 3"}], "mark": {"type": "rule", "color": "#000", "strokeWidth": 1.5},
   "encoding": {"y": {"field": "v", "type": "quantitative"}, "x": {"datum": -5.0, "type": "quantitative"}, "x2": {"datum": 5.03}}},
  {"data": {"name": "one"}, "mark": {"type": "rect", "filled": false, "color": "#000", "stroke": "#000", "strokeWidth": 2},
   "encoding": {"x": {"datum": -5.0, "type": "quantitative"}, "x2": {"datum": 5.03}, "y": {"datum": 0, "type": "quantitative"}, "y2": {"datum": 1777}}},
  {"data": {"name": "curves"}, "transform": [{"filter": "datum.s == 'r3'"}], "mark": {"type": "line", "color": "#000", "strokeWidth": 2.8, "strokeDash": [9, 3, 2.5, 3, 2.5, 3], "interpolate": "monotone"},
   "encoding": {"x": {"field": "z", "type": "quantitative"}, "y": {"field": "v", "type": "quantitative"}}},
  {"data": {"name": "hgrid"}, "transform": [{"filter": "datum.p == 3"}], "mark": {"type": "text", "align": "right", "baseline": "middle", "dx": -7, "fontStyle": "italic", "fontSize": 22},
   "encoding": {"y": {"field": "v", "type": "quantitative"}, "x": {"datum": -5.0, "type": "quantitative"}, "text": {"field": "v", "type": "quantitative", "format": "d"}}},
  {"data": {"name": "vgrid"}, "transform": [{"filter": "datum.z >= 0"}], "mark": {"type": "text", "align": "center", "baseline": "middle", "dy": 15, "fontStyle": "italic", "fontSize": 22},
   "encoding": {"x": {"field": "z", "type": "quantitative"}, "y": {"datum": 0, "type": "quantitative"}, "text": {"field": "t"}}},
  {"data": {"name": "vgrid"}, "transform": [{"filter": "datum.z < 0"}], "mark": {"type": "text", "align": "right", "baseline": "middle", "dx": -2, "dy": 15, "fontStyle": "italic", "fontSize": 22},
   "encoding": {"x": {"field": "z", "type": "quantitative"}, "y": {"datum": 0, "type": "quantitative"}, "text": {"field": "t"}}},
  {"data": {"name": "one"}, "mark": {"type": "text", "align": "left", "baseline": "middle", "dy": 15, "fontStyle": "italic", "fontSize": 22},
   "encoding": {"x": {"datum": 4.46, "type": "quantitative"}, "y": {"datum": 0, "type": "quantitative"}, "text": {"value": "z/λ"}}}
 ]},

 {"width": 702, "height": 234, "layer": [
  {"data": {"name": "titles"}, "transform": [{"filter": "datum.r == 4"}], "mark": {"type": "text", "fontSize": 24, "baseline": "middle", "align": "center"},
   "encoding": {"x": {"datum": 0.5, "type": "quantitative", "scale": {"domain": [-1.2332, 2.1912], "nice": false, "zero": false}}, "y": {"datum": 1, "type": "quantitative", "scale": {"domain": [-0.8182, 1.1515], "nice": false, "zero": false}}, "text": {"field": "t"}}},
  {"data": {"name": "rings"}, "transform": [{"filter": "datum.r == 4"}], "mark": {"type": "arc", "outerRadius": 94, "innerRadius": 70.5, "strokeWidth": 0.6},
   "encoding": {"x": {"field": "c", "type": "quantitative", "stack": null}, "y": {"datum": 0, "type": "quantitative"}, "theta": {"field": "a", "type": "quantitative", "stack": null, "scale": {"domain": [0, 360]}}, "theta2": {"field": "b"}, "color": {"field": "v", "type": "quantitative", "scale": {"domain": [0, 1], "range": ["#ffffff", "#000000"], "interpolate": "rgb"}}, "stroke": {"field": "v", "type": "quantitative", "scale": {"domain": [0, 1], "range": ["#ffffff", "#000000"], "interpolate": "rgb"}}}},
  {"data": {"name": "boxes"}, "mark": {"type": "point", "shape": "square", "size": 36100, "filled": false, "stroke": "#000", "strokeWidth": 2, "opacity": 1},
   "encoding": {"x": {"field": "c", "type": "quantitative"}, "y": {"datum": 0, "type": "quantitative"}}}
 ]},
 {"width": 550, "height": 234, "layer": [
  {"data": {"name": "vgrid"}, "mark": {"type": "rule", "color": "#000", "strokeWidth": 1.5},
   "encoding": {"x": {"field": "z", "type": "quantitative", "scale": {"domain": [-8.042, 6.379], "nice": false, "zero": false}}, "y": {"datum": -12, "type": "quantitative", "scale": {"domain": [-361.5, 2021], "nice": false, "zero": false}}, "y2": {"datum": 1940}}},
  {"data": {"name": "hgrid"}, "transform": [{"filter": "datum.p == 4"}], "mark": {"type": "rule", "color": "#000", "strokeWidth": 1.5},
   "encoding": {"y": {"field": "v", "type": "quantitative"}, "x": {"datum": -5.0, "type": "quantitative"}, "x2": {"datum": 5.03}}},
  {"data": {"name": "one"}, "mark": {"type": "rect", "filled": false, "color": "#000", "stroke": "#000", "strokeWidth": 2},
   "encoding": {"x": {"datum": -5.0, "type": "quantitative"}, "x2": {"datum": 5.03}, "y": {"datum": -12, "type": "quantitative"}, "y2": {"datum": 1940}}},
  {"data": {"name": "curves"}, "transform": [{"filter": "datum.s == 'sl'"}], "mark": {"type": "line", "color": "#000", "strokeWidth": 3.6, "interpolate": "monotone"},
   "encoding": {"x": {"field": "z", "type": "quantitative"}, "y": {"field": "v", "type": "quantitative"}}},
  {"data": {"name": "curves"}, "transform": [{"filter": "datum.s == 'dd'"}], "mark": {"type": "line", "color": "#000", "strokeWidth": 2.8, "strokeDash": [9, 3, 2.5, 3, 2.5, 3], "interpolate": "monotone"},
   "encoding": {"x": {"field": "z", "type": "quantitative"}, "y": {"field": "v", "type": "quantitative"}}},
  {"data": {"name": "curves"}, "transform": [{"filter": "datum.s == 'o'"}], "mark": {"type": "line", "color": "#000", "strokeWidth": 3.2, "strokeDash": [3, 3], "interpolate": "monotone"},
   "encoding": {"x": {"field": "z", "type": "quantitative"}, "y": {"field": "v", "type": "quantitative"}}},
  {"data": {"name": "curves"}, "transform": [{"filter": "datum.s == 'd'"}], "mark": {"type": "line", "color": "#000", "strokeWidth": 2.2, "strokeDash": [13, 6], "interpolate": "monotone"},
   "encoding": {"x": {"field": "z", "type": "quantitative"}, "y": {"field": "v", "type": "quantitative"}}},
  {"data": {"name": "hgrid"}, "transform": [{"filter": "datum.p == 4"}], "mark": {"type": "text", "align": "right", "baseline": "middle", "dx": -7, "fontStyle": "italic", "fontSize": 22},
   "encoding": {"y": {"field": "v", "type": "quantitative"}, "x": {"datum": -5.0, "type": "quantitative"}, "text": {"field": "v", "type": "quantitative", "format": "d"}}},
  {"data": {"name": "vgrid"}, "transform": [{"filter": "datum.z >= 0"}], "mark": {"type": "text", "align": "center", "baseline": "middle", "dy": 15, "fontStyle": "italic", "fontSize": 22},
   "encoding": {"x": {"field": "z", "type": "quantitative"}, "y": {"datum": -12, "type": "quantitative"}, "text": {"field": "t"}}},
  {"data": {"name": "vgrid"}, "transform": [{"filter": "datum.z < 0"}], "mark": {"type": "text", "align": "right", "baseline": "middle", "dx": -2, "dy": 15, "fontStyle": "italic", "fontSize": 22},
   "encoding": {"x": {"field": "z", "type": "quantitative"}, "y": {"datum": -12, "type": "quantitative"}, "text": {"field": "t"}}},
  {"data": {"name": "one"}, "mark": {"type": "text", "align": "left", "baseline": "middle", "dy": 15, "fontStyle": "italic", "fontSize": 22},
   "encoding": {"x": {"datum": 4.46, "type": "quantitative"}, "y": {"datum": -12, "type": "quantitative"}, "text": {"value": "z/λ"}}}
 ]}
]
}
